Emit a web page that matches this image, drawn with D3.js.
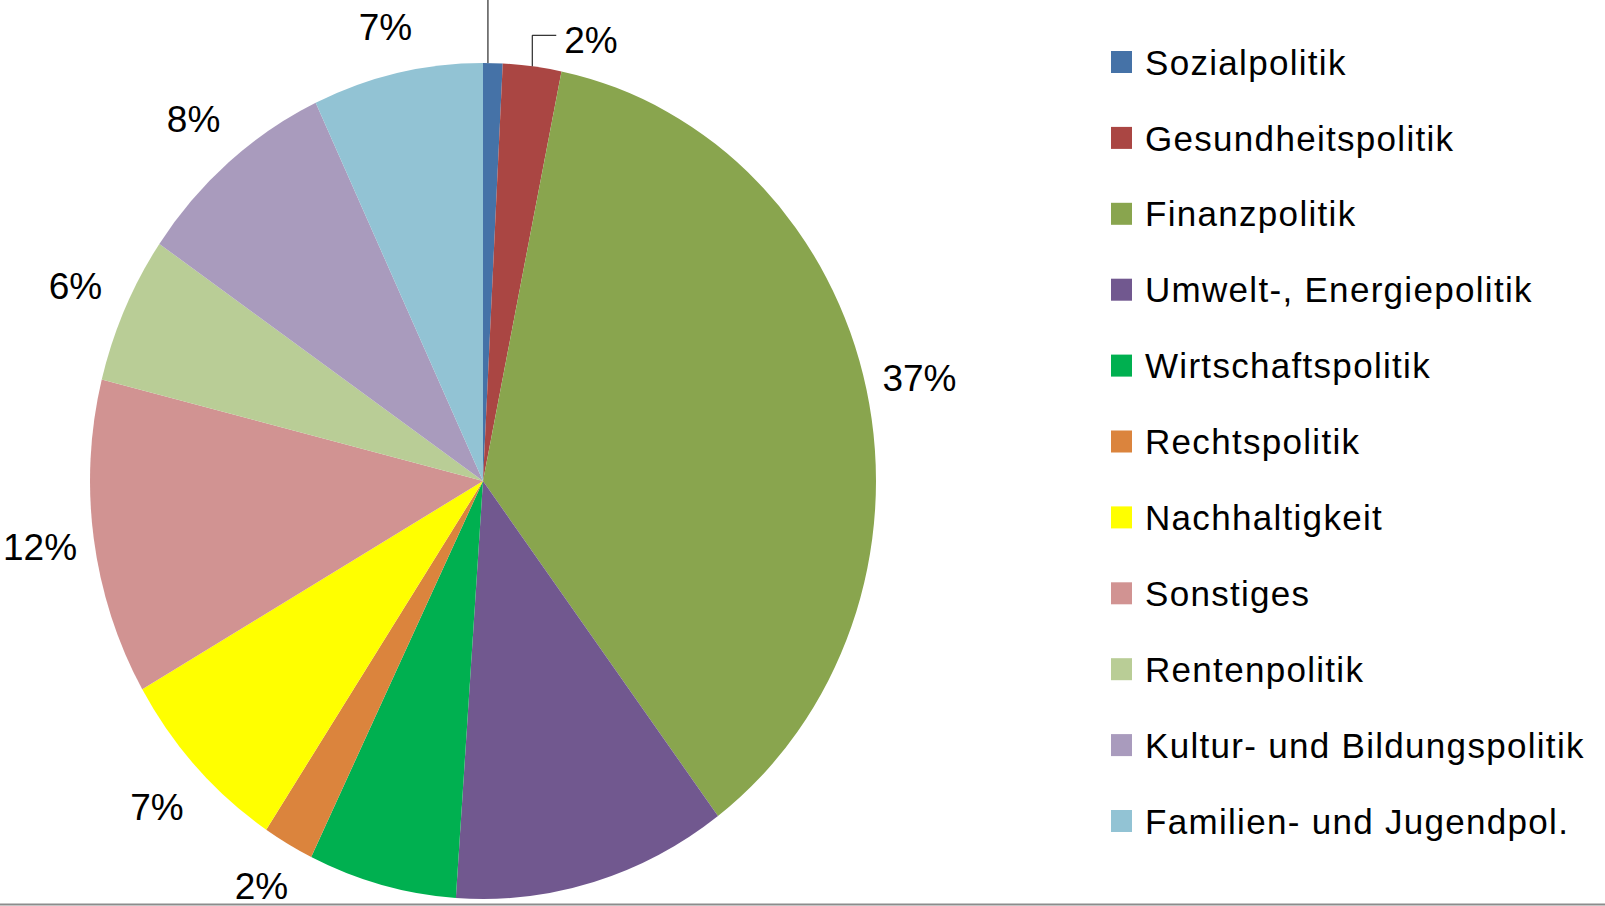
<!DOCTYPE html>
<html>
<head>
<meta charset="utf-8">
<script src="https://cdn.jsdelivr.net/npm/d3@7"></script>
<style>
    html, body { margin: 0; padding: 0; background: #fff; }
    svg { display: block; }
    .pct { font-family: 'Liberation Sans', Arial, sans-serif; font-size: 37px; fill: #000; }
    .legend text { font-family: 'Liberation Sans', Arial, sans-serif; font-size: 35px; letter-spacing: 1.3px; fill: #000; }
</style>
</head>
<body>
<div id="chart"></div>
<script>
    // data (share in percent)
    var categories = ["Sozialpolitik", "Gesundheitspolitik", "Finanzpolitik", "Umwelt-, Energiepolitik",
        "Wirtschaftspolitik", "Rechtspolitik", "Nachhaltigkeit", "Sonstiges", "Rentenpolitik",
        "Kultur- und Bildungspolitik", "Familien- und Jugendpol."];
    var shares = [0.8, 2.4, 36.6, 11.3, 6.1, 2.1, 7.4, 12.2, 5.7, 8.4, 7.0];
    var colors = ["#4572A7", "#AA4643", "#89A54E", "#71588F", "#00B050", "#DB843D",
        "#FFFF00", "#D19392", "#B9CD96", "#A99BBD", "#92C3D4"];

    var width = 1605, height = 906;
    var cx = 483, cy = 481,
        rx = 393, ry = 418,
        labelK = 1.138,
        labelHalf = 20; // half height of a % label

    var svg = d3.select("#chart").append("svg")
        .attr("width", width)
        .attr("height", height);

    var data = categories.map(function (c, i) { return { name: c, value: shares[i], color: colors[i] }; });

    var pie = d3.pie().sort(null).value(function (d) { return d.value; });
    var arcs = pie(data);
    var arc = d3.arc().innerRadius(0).outerRadius(ry);

    // pie is a little narrower than tall
    var pieG = svg.append("g")
        .attr("transform", "translate(" + cx + "," + cy + ") scale(" + (rx / ry) + ",1)");

    pieG.selectAll("path")
        .data(arcs)
        .enter().append("path")
        .attr("d", arc)
        .attr("fill", function (d) { return d.data.color; });

    function at(d, t, k) {
        var a = d.startAngle + (d.endAngle - d.startAngle) * t;
        return [cx + rx * k * Math.sin(a), cy - ry * k * Math.cos(a)];
    }

    // labels that were dragged away from the pie, with leader lines
    var moved = {
        "Sozialpolitik": { along: 0.25, up: -110, right: 0 },
        "Gesundheitspolitik": { along: 0.5, up: -31, right: 24 }
    };

    arcs.forEach(function (d) {
        var txt = Math.round(d.data.value) + "%";
        var m = moved[d.data.name];
        var x, y, anchor = "middle";
        if (m) {
            var p = at(d, m.along, 1);
            var elbow = [p[0], p[1] + m.up];
            svg.append("path")
                .attr("d", d3.line()([p, elbow, [elbow[0] + m.right, elbow[1]]]))
                .attr("fill", "none")
                .attr("stroke", "#000")
                .attr("stroke-width", 1);
            x = elbow[0] + m.right + 8;
            y = elbow[1] + 4;
            anchor = "start";
        } else {
            var q = at(d, 0.5, labelK);
            x = q[0];
            y = q[1];
            // labels close to the frame are pushed back inside, far ones stay out of view
            if (y < labelHalf + 7 && y > -labelHalf) y = labelHalf + 7;
            if (y > height - labelHalf && y < height + 2) y = height - labelHalf;
        }
        if (y + labelHalf < 0 || y - labelHalf > height) return;
        svg.append("text")
            .attr("class", "pct")
            .attr("x", x)
            .attr("y", y)
            .attr("dy", "0.36em")
            .attr("text-anchor", anchor)
            .text(txt);
    });

    // legend
    var legend = svg.append("g").attr("class", "legend");
    var rows = legend.selectAll("g")
        .data(data)
        .enter().append("g")
        .attr("transform", function (d, i) { return "translate(1111," + (62 + i * 75.9) + ")"; });
    rows.append("rect")
        .attr("x", 0).attr("y", -11)
        .attr("width", 21).attr("height", 22)
        .attr("fill", function (d) { return d.color; });
    rows.append("text")
        .attr("x", 34)
        .attr("dy", "0.36em")
        .text(function (d) { return d.name; });

    // bottom border
    svg.append("line")
        .attr("x1", 0).attr("x2", width)
        .attr("y1", 904.5).attr("y2", 904.5)
        .attr("stroke", "#8c8c8c")
        .attr("stroke-width", 2);
</script>
</body>
</html>
